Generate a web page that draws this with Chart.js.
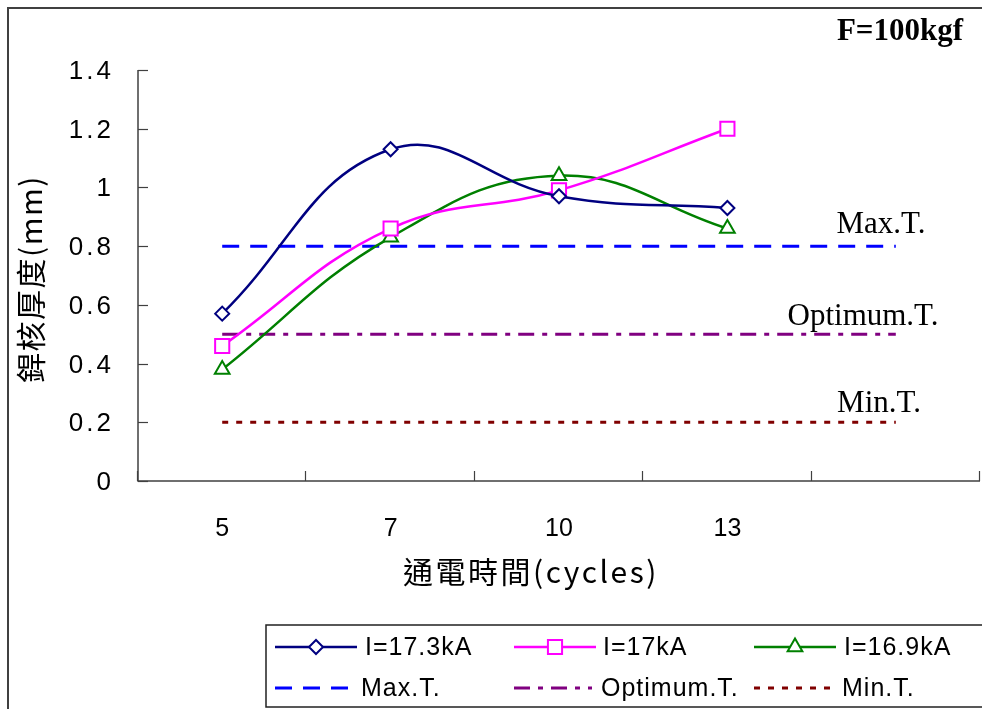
<!DOCTYPE html>
<html>
<head>
<meta charset="utf-8">
<script src="https://cdn.jsdelivr.net/npm/chart.js@4/dist/chart.umd.min.js"></script>
<style>
  html, body { margin: 0; padding: 0; background: #fff; overflow: hidden; }
  #wrap { width: 982px; height: 709px; position: relative; }
  #c { display: block; width: 982px; height: 709px; }
</style>
</head>
<body>
<div id="wrap"><canvas id="c" width="982" height="709"></canvas></div>
<script>
// Weld time categories (the last slot is left empty on purpose)
const cycles = ['5', '7', '10', '13', ''];

// Nugget thickness (mm) for each welding current
const nugget173 = [0.57, 1.13, 0.97, 0.93];
const nugget170 = [0.46, 0.86, 0.99, 1.20];
const nugget169 = [0.38, 0.83, 1.04, 0.86];

// Thickness limits
const maxT = [0.8, 0.8, 0.8, 0.8, 0.8];
const optimumT = [0.5, 0.5, 0.5, 0.5, 0.5];
const minT = [0.2, 0.2, 0.2, 0.2, 0.2];

// Value-axis tick labels
const yTickLabels = ['0', '0.2', '0.4', '0.6', '0.8', '1', '1.2', '1.4'];

const seriesNames = ['I=17.3kA', 'I=17kA', 'I=16.9kA', 'Max.T.', 'Optimum.T.', 'Min.T.'];
const limitNames = ['Max.T.', 'Optimum.T.', 'Min.T.'];
const forceLabel = 'F=100kgf';
const xTitle = '通電時間(cycles)';
const yTitle = '銲核厚度(mm)';

const SANS = '"Liberation Sans", Arial, sans-serif';
const SERIF = '"Liberation Serif", "Times New Roman", serif';
const CJK = '"Noto Sans CJK TC", "Noto Sans CJK SC", sans-serif';
const AXIS = '#404040';

function drawMarker(ctx, ds, x, y) {
  ctx.save();
  ctx.setLineDash([]);
  ctx.lineWidth = ds.pointBorderWidth;
  ctx.strokeStyle = ds.pointBorderColor;
  ctx.fillStyle = ds.pointBackgroundColor;
  if (Chart.helpers && Chart.helpers.drawPoint) {
    Chart.helpers.drawPoint(ctx, {pointStyle: ds.pointStyle, radius: ds.pointRadius, rotation: 0, borderWidth: ds.pointBorderWidth}, x, y);
  }
  ctx.restore();
}

function spacedText(ctx, text, x, y, spacing) {
  if ('letterSpacing' in ctx) {
    ctx.letterSpacing = spacing + 'px';
    ctx.fillText(text, x, y);
    ctx.letterSpacing = '0px';
  } else {
    ctx.fillText(text, x, y);
  }
}

const decor = {
  id: 'decor',
  beforeDatasetsDraw(chart) {
    const ctx = chart.ctx;
    const xs = chart.scales.x, ys = chart.scales.y;
    const {left, right, top, bottom} = chart.chartArea;
    ctx.save();
    // outer frame
    ctx.strokeStyle = AXIS;
    ctx.lineWidth = 2;
    ctx.strokeRect(8, 8, 1000, 1000);

    // axes
    ctx.strokeStyle = AXIS;
    ctx.lineWidth = 1.5;
    ctx.beginPath();
    ctx.moveTo(left, top);
    ctx.lineTo(left, bottom);
    ctx.lineTo(right, bottom);
    ctx.stroke();

    // value ticks (inward) and labels
    ctx.fillStyle = '#000';
    ctx.font = '26px ' + SANS;
    ctx.textAlign = 'right';
    ctx.textBaseline = 'middle';
    ctx.lineWidth = 1.2;
    yTickLabels.forEach(lbl => {
      const py = Math.round(ys.getPixelForValue(parseFloat(lbl))) + 0.5;
      ctx.beginPath();
      ctx.moveTo(left, py);
      ctx.lineTo(left + 10, py);
      ctx.stroke();
      spacedText(ctx, lbl, left - 24, py + 1, 3);
    });

    // category boundary ticks (inward) and labels
    const n = cycles.length;
    const step = (right - left) / n;
    for (let i = 0; i <= n; i++) {
      const px = Math.round(left + i * step) - 0.5;
      ctx.beginPath();
      ctx.moveTo(px, bottom);
      ctx.lineTo(px, bottom - 10);
      ctx.stroke();
    }
    ctx.font = '25px ' + SANS;
    ctx.textAlign = 'center';
    cycles.forEach((c, i) => {
      if (c) ctx.fillText(c, xs.getPixelForValue(i), bottom + 48);
    });

    // axis titles
    ctx.font = '30px ' + CJK;
    spacedText(ctx, xTitle, 531, bottom + 91, 2.5);
    ctx.save();
    ctx.translate(31, 279);
    ctx.rotate(-Math.PI / 2);
    spacedText(ctx, yTitle, 0, 0, 1.5);
    ctx.restore();

    // limit labels
    ctx.font = '31px ' + SERIF;
    ctx.textBaseline = 'alphabetic';
    ctx.fillText(limitNames[0], 881, ys.getPixelForValue(maxT[0]) - 13);
    ctx.fillText(limitNames[1], 863, ys.getPixelForValue(optimumT[0]) - 9);
    ctx.fillText(limitNames[2], 879, ys.getPixelForValue(minT[0]) - 10);

    // load label
    ctx.font = 'bold 31px ' + SERIF;
    ctx.fillText(forceLabel, 900, 40);
    ctx.restore();
  },
  afterDraw(chart) {
    const ctx = chart.ctx;
    const ds = chart.data.datasets;
    ctx.save();
    // legend box
    ctx.strokeStyle = '#202020';
    ctx.lineWidth = 1.5;
    ctx.strokeRect(266, 625, 800, 82);

    const items = [
      {x1: 275, x2: 357, tx: 365, y: 647},
      {x1: 514, x2: 596, tx: 603, y: 647},
      {x1: 754, x2: 836, tx: 844, y: 647},
      {x1: 275, x2: 350, tx: 361, y: 688},
      {x1: 514, x2: 592, tx: 601, y: 688},
      {x1: 754, x2: 836, tx: 842, y: 688}
    ];
    ctx.font = '25px ' + SANS;
    ctx.textAlign = 'left';
    ctx.textBaseline = 'middle';
    items.forEach((it, i) => {
      const d = ds[i];
      ctx.strokeStyle = d.borderColor;
      ctx.lineWidth = d.borderWidth;
      ctx.setLineDash(d.borderDash || []);
      ctx.beginPath();
      ctx.moveTo(it.x1, it.y);
      ctx.lineTo(it.x2, it.y);
      ctx.stroke();
      ctx.setLineDash([]);
      if (d.pointRadius > 0) drawMarker(ctx, d, (it.x1 + it.x2) / 2, it.y);
      ctx.fillStyle = '#000';
      spacedText(ctx, d.label, it.tx, it.y + 1, 1);
    });
    ctx.restore();
  }
};

const seriesStyle = (color, style, radius, width) => ({
  borderColor: color,
  borderWidth: width,
  pointStyle: style,
  pointRadius: radius,
  pointHoverRadius: radius,
  pointBorderColor: color,
  pointBackgroundColor: '#fff',
  pointBorderWidth: 2,
  tension: 0.42,
  fill: false
});

const limitStyle = (color, dash) => ({
  borderColor: color,
  borderWidth: 3,
  borderDash: dash,
  pointRadius: 0,
  pointHoverRadius: 0,
  tension: 0,
  fill: false
});

new Chart(document.getElementById('c'), {
  type: 'line',
  data: {
    labels: cycles,
    datasets: [
      Object.assign({label: seriesNames[0], data: nugget173}, seriesStyle('#000080', 'rectRot', 7, 2.5)),
      Object.assign({label: seriesNames[1], data: nugget170}, seriesStyle('#FF00FF', 'rect', 10, 2.5)),
      Object.assign({label: seriesNames[2], data: nugget169}, seriesStyle('#008000', 'triangle', 8.5, 2.5)),
      Object.assign({label: seriesNames[3], data: maxT}, limitStyle('#0000FF', [17, 11])),
      Object.assign({label: seriesNames[4], data: optimumT}, limitStyle('#800080', [16, 8, 5, 8])),
      Object.assign({label: seriesNames[5], data: minT}, limitStyle('#800000', [6, 8]))
    ]
  },
  options: {
    responsive: false,
    maintainAspectRatio: false,
    animation: false,
    devicePixelRatio: 1,
    layout: {autoPadding: false, padding: {left: 138, top: 70, right: 2, bottom: 228}},
    plugins: {legend: {display: false}, tooltip: {enabled: false}},
    events: [],
    scales: {
      x: {type: 'category', offset: true, display: false},
      y: {type: 'linear', min: 0, max: 1.4, display: false}
    }
  },
  plugins: [decor]
});
</script>
</body>
</html>
